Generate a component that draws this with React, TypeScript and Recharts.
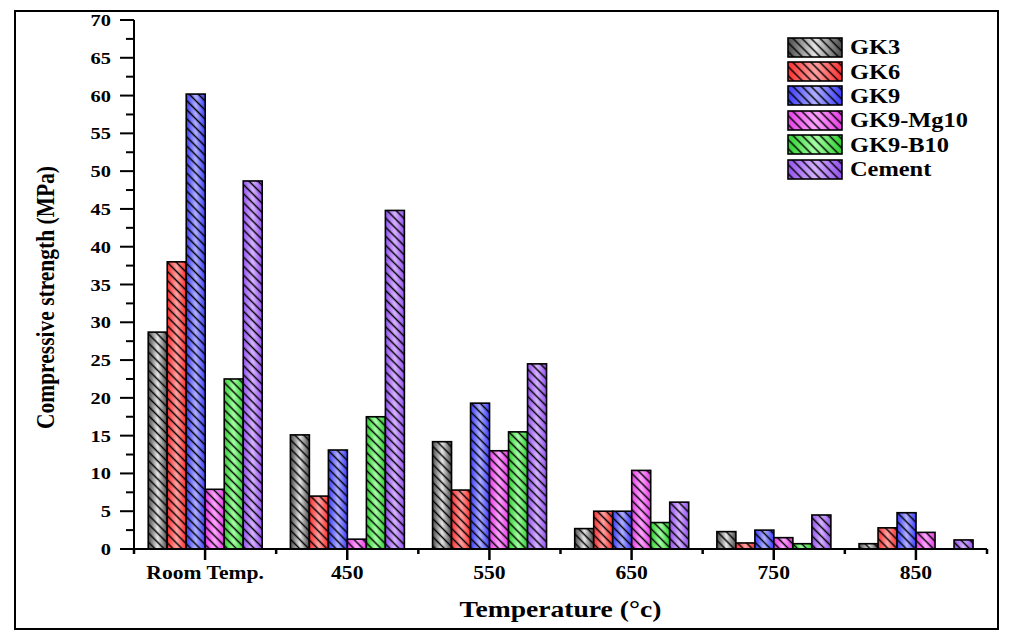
import React from 'react';
import { BarChart, Bar, XAxis, YAxis, Legend } from 'recharts';

const categories = ['Room Temp.', '450', '550', '650', '750', '850'];
const gk3 = [28.7, 15.1, 14.2, 2.7, 2.3, 0.7];
const gk6 = [38.0, 7.0, 7.8, 5.0, 0.8, 2.8];
const gk9 = [60.2, 13.1, 19.3, 5.0, 2.5, 4.8];
const gk9mg10 = [7.9, 1.3, 13.0, 10.4, 1.5, 2.2];
const gk9b10 = [22.5, 17.5, 15.5, 3.5, 0.7, 0];
const cement = [48.7, 44.8, 24.5, 6.2, 4.5, 1.2];
const yTicks = [0, 2.5, 5, 7.5, 10, 12.5, 15, 17.5, 20, 22.5, 25, 27.5, 30, 32.5, 35, 37.5, 40, 42.5, 45, 47.5, 50, 52.5, 55, 57.5, 60, 62.5, 65, 67.5, 70];
const seriesNames = ['GK3', 'GK6', 'GK9', 'GK9-Mg10', 'GK9-B10', 'Cement'];
const seriesValues = [gk3, gk6, gk9, gk9mg10, gk9b10, cement];

const seriesStyles = [
  { edge: '#4a4a4a', mid: '#e6e6e6' },
  { edge: '#ff2e2e', mid: '#ffa3a3' },
  { edge: '#3b3bff', mid: '#b0b0ff' },
  { edge: '#e53de5', mid: '#ffa6ff' },
  { edge: '#2fcf2f', mid: '#a6ffa6' },
  { edge: '#9350f0', mid: '#d6b3ff' },
];

const keys = seriesNames.map((_, i) => 's' + i);
const data = categories.map((c, ci) => {
  const row: any = { cat: c };
  seriesValues.forEach((arr, si) => {
    row[keys[si]] = arr[ci];
  });
  return row;
});

const W = 1016;
const H = 643;
const Y_AXIS_W = 134;
const X_AXIS_H = 94;
const M_TOP = 20;
const M_RIGHT = 29;
const PLOT_W = W - Y_AXIS_W - M_RIGHT;
const BAND = PLOT_W / categories.length;
const FONT = '"Liberation Serif", "Times New Roman", Times, serif';

const makeShape = (si: number) => (props: any) => {
  const { x, y, width, height } = props;
  if (!height || height <= 0.01) return <g />;
  return (
    <g>
      <rect x={x} y={y} width={width} height={height} fill={`url(#grad${si})`} />
      <rect x={x} y={y} width={width} height={height} fill="url(#hatch)" />
      <rect x={x} y={y} width={width} height={height} fill="none" stroke="#000" strokeWidth={1.6} />
    </g>
  );
};

const YTick = (props: any) => {
  const { x, y, payload } = props;
  const v = payload.value;
  const major = Math.abs(v % 5) < 1e-6;
  return (
    <g>
      <line x1={x - (major ? 14 : 8)} x2={x} y1={y} y2={y} stroke="#000" strokeWidth={2} />
      {major && (
        <text
          transform={`translate(${x - 23},${y + 6}) scale(1.2,1)`}
          textAnchor="end"
          fontSize={17}
          fontWeight="bold"
          fontFamily={FONT}
          fill="#000"
        >
          {v}
        </text>
      )}
    </g>
  );
};

const XTick = (props: any) => {
  const { x, y, payload, index } = props;
  const last = index === categories.length - 1;
  return (
    <g>
      <line x1={x} x2={x} y1={y} y2={y + 11} stroke="#000" strokeWidth={2.5} />
      <line x1={x - BAND / 2} x2={x - BAND / 2} y1={y} y2={y + 5} stroke="#000" strokeWidth={2.5} />
      {last && <line x1={x + BAND / 2} x2={x + BAND / 2} y1={y} y2={y + 5} stroke="#000" strokeWidth={2.5} />}
      <text
        transform={`translate(${x},${y + 30}) scale(1.2,1)`}
        textAnchor="middle"
        fontSize={18}
        fontWeight="bold"
        fontFamily={FONT}
        fill="#000"
      >
        {payload.value}
      </text>
    </g>
  );
};

const YLabel = (props: any) => {
  const vb = props.viewBox || { x: 0, y: M_TOP, width: Y_AXIS_W, height: 529 };
  const cx = vb.x + 45;
  const cy = vb.y + vb.height / 2 + 13;
  return (
    <text
      transform={`translate(${cx},${cy}) rotate(-90) scale(1,1.18)`}
      textAnchor="middle"
      dy="0.35em"
      fontSize={21.5}
      fontWeight="bold"
      fontFamily={FONT}
      fill="#000"
    >
      Compressive strength (MPa)
    </text>
  );
};

const XLabel = (props: any) => {
  const vb = props.viewBox || { x: Y_AXIS_W, y: H - X_AXIS_H, width: PLOT_W, height: X_AXIS_H };
  const cx = vb.x + vb.width / 2;
  const cy = vb.y + 68;
  return (
    <text
      transform={`translate(${cx},${cy}) scale(1.2,1)`}
      textAnchor="middle"
      fontSize={23}
      fontWeight="bold"
      fontFamily={FONT}
      fill="#000"
    >
      Temperature (°c)
    </text>
  );
};

const LegendContent = (props: any) => {
  const payload = [...(props.payload || [])].sort(
    (a: any, b: any) => keys.indexOf(a.dataKey) - keys.indexOf(b.dataKey)
  );
  return (
    <div style={{ display: 'flex', flexDirection: 'column' }}>
      {payload.map((p: any, i: number) => {
        const si = keys.indexOf(p.dataKey);
        return (
          <div key={i} style={{ display: 'flex', alignItems: 'center', height: 24.4 }}>
            <svg width={56} height={21} style={{ display: 'block' }}>
              <rect x={1} y={1} width={54} height={19} fill={`url(#grad${si})`} />
              <rect x={1} y={1} width={54} height={19} fill="url(#hatch)" />
              <rect x={1} y={1} width={54} height={19} fill="none" stroke="#000" strokeWidth={1.6} />
            </svg>
            <span
              style={{
                marginLeft: 7,
                fontFamily: FONT,
                fontWeight: 'bold',
                fontSize: 20,
                color: '#000',
                display: 'inline-block',
                transform: 'scaleX(1.22)',
                transformOrigin: 'left center',
                whiteSpace: 'nowrap',
                lineHeight: '20px',
              }}
            >
              {p.value}
            </span>
          </div>
        );
      })}
    </div>
  );
};

export default function App() {
  return (
    <div style={{ position: 'absolute', left: 0, top: 0, width: W, height: H, background: '#fff', overflow: 'hidden' }}>
      <svg width={0} height={0} style={{ position: 'absolute' }}>
        <defs>
          {seriesStyles.map((s, i) => (
            <linearGradient key={i} id={`grad${i}`} x1="0" y1="0" x2="1" y2="0">
              <stop offset="0" stopColor={s.edge} />
              <stop offset="0.5" stopColor={s.mid} />
              <stop offset="1" stopColor={s.edge} />
            </linearGradient>
          ))}
          <pattern id="hatch" patternUnits="userSpaceOnUse" width="6.4" height="6.4" patternTransform="rotate(-45)">
            <line x1="3.2" y1="-1" x2="3.2" y2="7.4" stroke="#000" strokeWidth="1.5" />
          </pattern>
        </defs>
      </svg>
      <div
        style={{
          position: 'absolute',
          left: 14,
          top: 10,
          width: 985,
          height: 620,
          border: '2px solid #000',
          boxSizing: 'border-box',
        }}
      />
      <div style={{ position: 'absolute', left: 0, top: 0 }}>
        <BarChart
          width={W}
          height={H}
          data={data}
          margin={{ top: M_TOP, right: M_RIGHT, left: 0, bottom: 0 }}
          barCategoryGap="10%"
          barGap={0}
        >
          <XAxis
            xAxisId="x"
            dataKey="cat"
            height={X_AXIS_H}
            interval={0}
            tickSize={0}
            tickMargin={0}
            tickLine={false}
            axisLine={{ stroke: '#000', strokeWidth: 2 }}
            tick={<XTick />}
            label={{ content: (p: any) => <XLabel {...p} /> }}
          />
          <XAxis
            xAxisId="top"
            dataKey="cat"
            orientation="top"
            height={0}
            tick={false}
            tickLine={false}
            axisLine={{ stroke: '#000', strokeWidth: 2 }}
          />
          <YAxis
            yAxisId="y"
            width={Y_AXIS_W}
            domain={[0, 70]}
            ticks={yTicks}
            interval={0}
            tickSize={0}
            tickMargin={0}
            tickLine={false}
            axisLine={{ stroke: '#000', strokeWidth: 2 }}
            tick={<YTick />}
            label={{ content: (p: any) => <YLabel {...p} /> }}
          />
          <YAxis
            yAxisId="r"
            orientation="right"
            width={0}
            domain={[0, 70]}
            tick={false}
            tickLine={false}
            axisLine={{ stroke: '#000', strokeWidth: 2 }}
          />
          <Legend
            layout="vertical"
            align="center"
            verticalAlign="middle"
            content={<LegendContent />}
            wrapperStyle={{ left: 787, top: 35, right: 'auto', bottom: 'auto', width: 210, height: 150 }}
          />
          {keys.map((k, i) => (
            <Bar
              key={k}
              xAxisId="x"
              yAxisId="y"
              dataKey={k}
              name={seriesNames[i]}
              fill={seriesStyles[i].edge}
              isAnimationActive={false}
              shape={makeShape(i)}
            />
          ))}
        </BarChart>
      </div>
    </div>
  );
}
